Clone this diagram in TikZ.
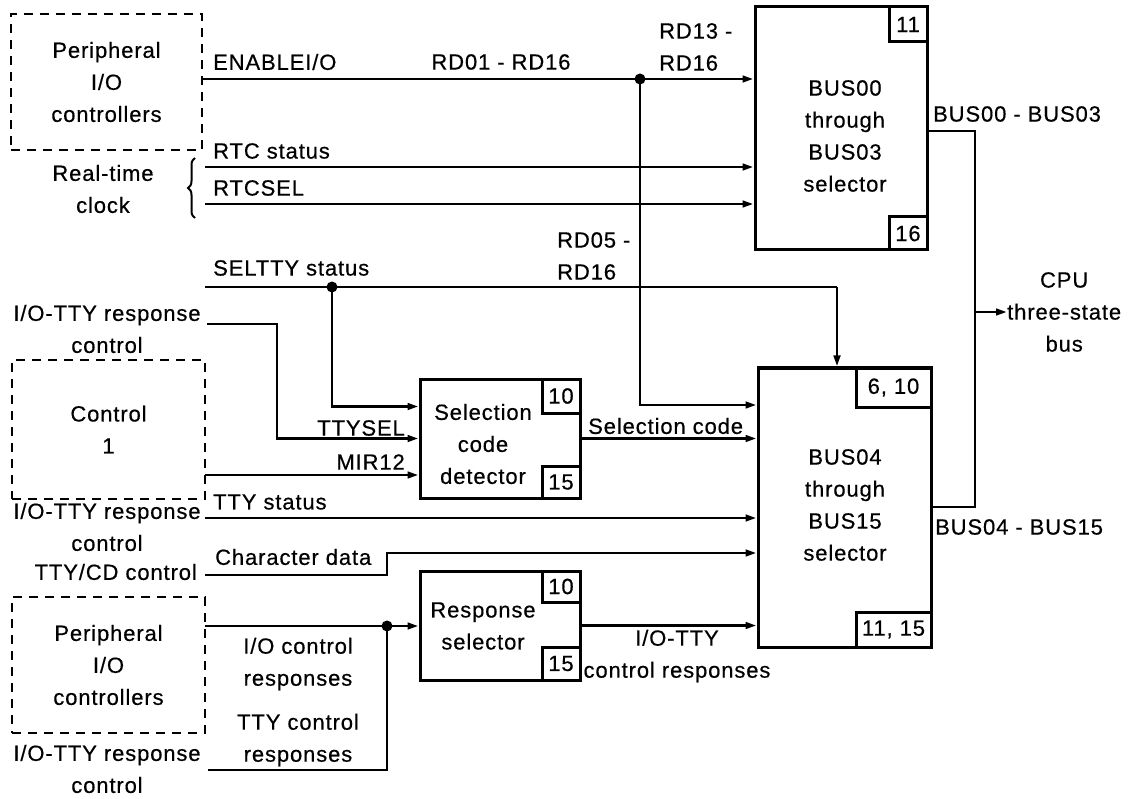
\documentclass[tikz,border=0pt]{standalone}
\usepackage{fontspec}
\setmainfont{Liberation Sans}[LetterSpace=4, FakeBold=0.5]
\usetikzlibrary{arrows.meta, positioning, calc, decorations.pathreplacing}

\begin{document}
\begin{tikzpicture}[x=1pt, y=-1pt, font=\fontsize{22}{32}\selectfont,
		sig/.style={line width=2.7pt, -{Triangle[length=11pt,width=6.5pt]}},
		wire/.style={line width=2.7pt},
		blk/.style={draw, line width=3pt, inner sep=0pt},
		tag/.style={draw, line width=3pt, inner sep=0pt, minimum width=38pt},
		unit/.style={draw, line width=2.7pt, dash pattern=on 9pt off 7pt, align=center, inner sep=0pt},
		lbl/.style={inner sep=0pt, align=center}]
	\useasboundingbox (0,0) rectangle (1132,799);
	\node[unit, minimum width=191pt, minimum height=136pt] (perA) at (106.5,82) {Peripheral\\I/O\\controllers};
	\node[unit, minimum width=193pt, minimum height=139pt] (ctl) at (108.5,429.5) {Control\\1};
	\node[unit, minimum width=193pt, minimum height=136pt] (perB) at (108.5,665) {Peripheral\\I/O\\controllers};
	\node[blk, minimum width=172pt, minimum height=243pt] (selA) at (841,128.5) {};
	\node[lbl] (selAtxt) at (845,136) {BUS00\\through\\BUS03\\selector};
	\node[tag, minimum height=35pt, anchor=north east] (selAtop) at (selA.north east) {11};
	\node[tag, minimum height=33pt, anchor=south east] (selAbot) at (selA.south east) {16};
	\node[blk, minimum width=173pt, minimum height=279pt] (selB) at (844.5,507.5) {};
	\node[lbl] (selBtxt) at (845,505) {BUS04\\through\\BUS15\\selector};
	\node[tag, minimum width=75pt, minimum height=39pt, anchor=north east] (selBtop) at (selB.north east) {6, 10};
	\node[tag, minimum width=75pt, minimum height=35pt, anchor=south east] (selBbot) at (selB.south east) {11, 15};
	\node[blk, minimum width=160pt, minimum height=119pt] (scd) at (500,438.5) {};
	\node[lbl] (scdtxt) at (483,444) {Selection\\code\\detector};
	\node[tag, minimum height=34pt, anchor=north east] (scdtop) at (scd.north east) {10};
	\node[tag, minimum height=32pt, anchor=south east] (scdbot) at (scd.south east) {15};
	\node[blk, minimum width=160pt, minimum height=109pt] (rsel) at (500,625.5) {};
	\node[lbl] (rseltxt) at (483,626) {Response\\selector};
	\node[tag, minimum height=31pt, anchor=north east] (rseltop) at (rsel.north east) {10};
	\node[tag, minimum height=33pt, anchor=south east] (rselbot) at (rsel.south east) {15};
	\node[lbl, anchor=west] (cpu) at (1007,312) {CPU\\three-state\\bus};
	\coordinate (enS) at (202,79);
	\coordinate (rdJ) at (640,79);
	\coordinate (rtcA) at (205,167);
	\coordinate (rtcB) at (205,204);
	\coordinate (selS) at (205,287);
	\coordinate (selJ) at (332,287);
	\coordinate (selT) at (837,287);
	\coordinate (rdB) at (640,405);
	\coordinate (iotA) at (207,324);
	\coordinate (mirS) at (205,475);
	\coordinate (ttyS) at (205,518);
	\coordinate (cdS) at (205,575);
	\coordinate (cdB) at (387,553);
	\coordinate (iocS) at (205,626);
	\coordinate (iocJ) at (387,626);
	\coordinate (ttcS) at (208,770);
	\coordinate (busA) at (975,131);
	\coordinate (busB) at (975,507);
	\coordinate (busC) at (975,312);
	\draw[wire] (enS) -- (rdJ);
	\draw[sig] (rdJ) -- (rdJ -| selA.west);
	\draw[sig] (rdJ) -- (rdB) -- (rdB -| selB.west);
	\draw[sig] (rtcA) -- (rtcA -| selA.west);
	\draw[sig] (rtcB) -- (rtcB -| selA.west);
	\draw[wire] (selS) -- (selT);
	\draw[sig] (selT) -- (selT |- selB.north);
	\draw[sig] (selJ) |- ([yshift=32pt]scd.west);
	\draw[sig] (iotA) -- ++(70,0) |- (scd.west);
	\draw[sig] (mirS) -- (mirS -| scd.west);
	\draw[sig] (scd.east) -- (scd.east -| selB.west);
	\draw[sig] (ttyS) -- (ttyS -| selB.west);
	\draw[sig] (cdS) -| (cdB) -- (cdB -| selB.west);
	\draw[sig] (iocS) -- (iocS -| rsel.west);
	\draw[wire] (ttcS) -| (iocJ);
	\draw[sig] (rsel.east) -- (rsel.east -| selB.west);
	\draw[wire] (busA -| selA.east) -- (busA) -- (busB) -- (busB -| selB.east);
	\draw[sig] (busC) -- (cpu.west);
	\foreach \d in {rdJ, selJ, iocJ}
		\fill (\d) circle (5.5pt);
	\draw[line width=2pt, decorate, decoration={brace, amplitude=7pt}] (195,218) -- (195,158);
	\node[lbl, anchor=west] (lEnable) at (213,62) {ENABLEI/O};
	\node[lbl] (lRdAll) at (501,62) {RD01 - RD16};
	\node[lbl, anchor=west, align=left] (lRdTop) at (659,47) {RD13 -\\RD16};
	\node[lbl, anchor=west] (lRtcSt) at (213,151) {RTC status};
	\node[lbl, anchor=west] (lRtcSel) at (213,188) {RTCSEL};
	\node[lbl] (lClock) at (103,189) {Real-time\\clock};
	\node[lbl, anchor=west, align=left] (lRdLow) at (557,256) {RD05 -\\RD16};
	\node[lbl, anchor=west] (lSeltty) at (213,268) {SELTTY status};
	\node[lbl] (lRespA) at (107,329) {I/O-TTY response\\control};
	\node[lbl, anchor=east] (lTtysel) at (405,428) {TTYSEL};
	\node[lbl, anchor=east] (lMir) at (405,462) {MIR12};
	\node[lbl, anchor=west] (lTtySt) at (213,502) {TTY status};
	\node[lbl] (lRespB) at (107,527) {I/O-TTY response\\control};
	\node[lbl, anchor=east] (lCdCtl) at (197,572) {TTY/CD control};
	\node[lbl, anchor=west] (lChar) at (215,557) {Character data};
	\node[lbl] (lIoResp) at (298,664) {I/O control\\responses};
	\node[lbl] (lTtyResp) at (298,740) {TTY control\\responses};
	\node[lbl] (lRespC) at (107,769) {I/O-TTY response\\control};
	\node[lbl, anchor=west] (lSelCode) at (588,426) {Selection code};
	\node[lbl] (lRselOut) at (677,656) {I/O-TTY\\control responses};
	\node[lbl, anchor=west] (lBusA) at (933,114) {BUS00 - BUS03};
	\node[lbl, anchor=west] (lBusB) at (935,527) {BUS04 - BUS15};
\end{tikzpicture}
\end{document}
